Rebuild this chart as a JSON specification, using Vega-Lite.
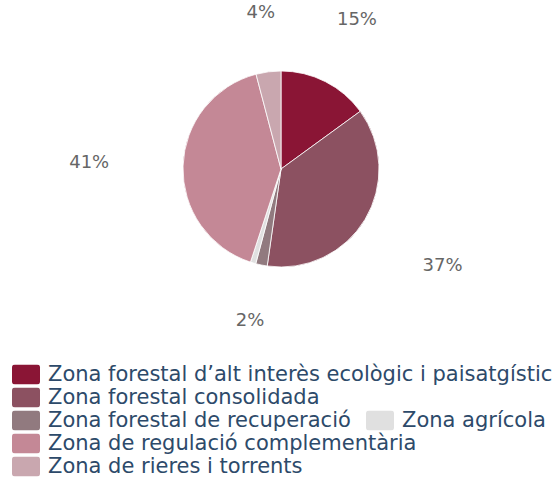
{
  "$schema": "https://vega.github.io/schema/vega-lite/v6.json",
  "autosize": {"type": "none"},
  "width": 544,
  "height": 338,
  "padding": {"left": 9, "top": 0, "right": 0, "bottom": 139},
  "background": "white",
  "data": {
    "values": [
      {"zona": "Zona forestal d’alt interès ecològic i paisatgístic", "v": 0.150, "ord": 1},
      {"zona": "Zona forestal consolidada", "v": 0.373, "ord": 2},
      {"zona": "Zona forestal de recuperació", "v": 0.019, "ord": 3},
      {"zona": "Zona agrícola", "v": 0.009, "ord": 4},
      {"zona": "Zona de regulació complementària", "v": 0.409, "ord": 5},
      {"zona": "Zona de rieres i torrents", "v": 0.041, "ord": 6}
    ]
  },
  "layer": [
    {
      "mark": {"type": "arc", "radius": 98, "stroke": "white", "strokeWidth": 0.8},
      "encoding": {
        "theta": {"field": "v", "type": "quantitative", "stack": true},
        "order": {"field": "ord", "type": "quantitative"},
        "color": {
          "field": "zona",
          "type": "nominal",
          "scale": {
            "domain": ["Zona forestal d’alt interès ecològic i paisatgístic", "Zona forestal consolidada", "Zona forestal de recuperació", "Zona agrícola", "Zona de regulació complementària", "Zona de rieres i torrents"],
            "range": ["#8a1535", "#8c5161", "#917a7f", "#e0e0e0", "#c48896", "#c9a7af"]
          },
          "legend": {
            "title": null,
            "orient": "none",
            "legendX": 3,
            "legendY": 364.5,
            "direction": "vertical",
            "values": ["Zona forestal d’alt interès ecològic i paisatgístic", "Zona forestal consolidada", "Zona forestal de recuperació", "Zona de regulació complementària", "Zona de rieres i torrents"]
          }
        }
      }
    },
    {
      "mark": {"type": "arc", "radius": 98, "stroke": "white", "strokeWidth": 0.8},
      "encoding": {
        "theta": {"field": "v", "type": "quantitative", "stack": true},
        "order": {"field": "ord", "type": "quantitative"},
        "color": {
          "field": "zona",
          "type": "nominal",
          "scale": {
            "domain": ["Zona forestal d’alt interès ecològic i paisatgístic", "Zona forestal consolidada", "Zona forestal de recuperació", "Zona agrícola", "Zona de regulació complementària", "Zona de rieres i torrents"],
            "range": ["#8a1535", "#8c5161", "#917a7f", "#e0e0e0", "#c48896", "#c9a7af"]
          },
          "legend": {
            "title": null,
            "orient": "none",
            "legendX": 357,
            "legendY": 410.5,
            "direction": "vertical",
            "values": ["Zona agrícola"]
          }
        }
      }
    },
    {
      "mark": {"type": "text", "font": "DejaVu Sans", "fontSize": 18, "color": "#666666", "baseline": "middle", "align": "center"},
      "encoding": {
        "theta": {"field": "v", "type": "quantitative", "stack": true},
        "order": {"field": "ord", "type": "quantitative"},
        "radius": {"field": "v", "type": "quantitative", "scale": {"type": "linear", "domain": [0.04, 0.41], "range": [157, 192], "zero": false}},
        "text": {
          "condition": {"test": "datum.v < 0.015", "value": ""},
          "field": "v",
          "type": "quantitative",
          "format": ".0%"
        }
      }
    }
  ],
  "resolve": {"scale": {"color": "independent"}},
  "config": {
    "view": {"stroke": null},
    "legend": {
      "padding": 0,
      "clipHeight": 20,
      "rowPadding": 2,
      "symbolType": "M-0.786,-0.714H0.786Q1,-0.714,1,-0.5V0.5Q1,0.714,0.786,0.714H-0.786Q-1,0.714,-1,0.5V-0.5Q-1,-0.714,-0.786,-0.714Z",
      "symbolSize": 784,
      "symbolStrokeWidth": 0,
      "symbolOpacity": 1,
      "symbolOffset": 0,
      "labelOffset": 8,
      "labelFont": "DejaVu Sans",
      "labelFontSize": 21,
      "labelColor": "#2d4a6a",
      "labelLimit": 600
    }
  }
}
